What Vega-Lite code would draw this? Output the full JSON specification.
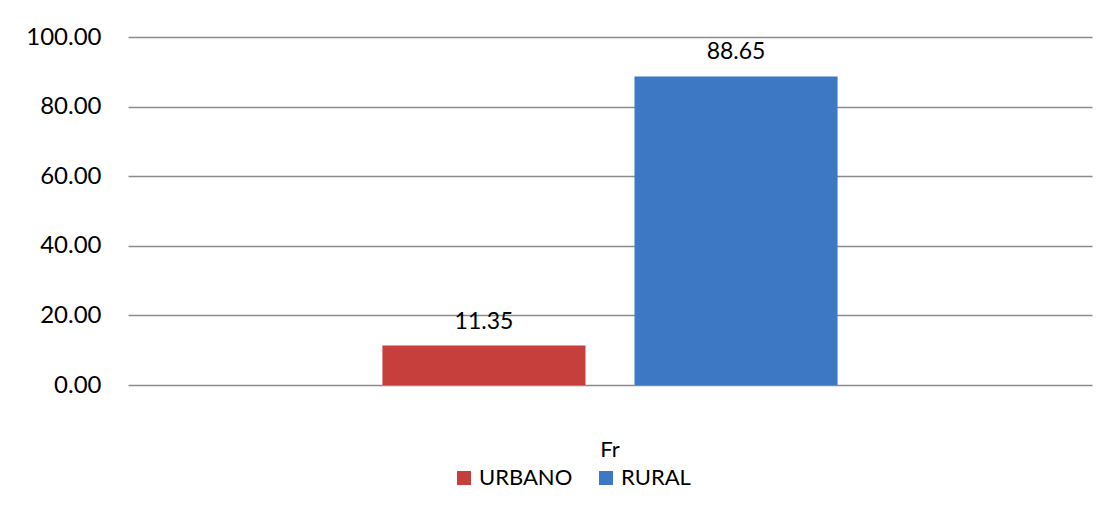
{
  "$schema": "https://vega.github.io/schema/vega-lite/v6.json",
  "width": 964,
  "height": 348,
  "autosize": {"type": "none"},
  "padding": {"left": 128, "top": 37, "right": 17, "bottom": 125},
  "background": "white",
  "data": {
    "values": [
      {"cat": "Fr", "serie": "URBANO", "valor": 11.35},
      {"cat": "Fr", "serie": "RURAL", "valor": 88.65}
    ]
  },
  "encoding": {
    "x": {
      "field": "cat", "type": "nominal",
      "scale": {"paddingInner": 0, "paddingOuter": 0.559},
      "axis": {"title": null, "labelAngle": 0, "ticks": false, "domain": false, "labelPadding": 54, "labelFontSize": 22, "labelFont": "Lato", "labelColor": "#000"}
    },
    "xOffset": {
      "field": "serie", "type": "nominal", "sort": ["URBANO", "RURAL"],
      "scale": {"paddingInner": 0.1944, "paddingOuter": 0}
    },
    "y": {
      "field": "valor", "type": "quantitative",
      "scale": {"domain": [0, 100], "nice": false},
      "axis": {"title": null, "values": [0, 20, 40, 60, 80, 100], "format": ".2f", "ticks": false, "domain": false, "labelPadding": 27, "labelFontSize": 24, "labelFont": "Lato", "labelColor": "#000", "gridColor": "#8c8c8c", "gridWidth": 1.5}
    }
  },
  "layer": [
    {
      "mark": {"type": "bar", "stroke": null},
      "encoding": {
        "color": {
          "field": "serie", "type": "nominal", "sort": ["URBANO", "RURAL"],
          "scale": {"domain": ["URBANO", "RURAL"], "range": ["#C63F3D", "#3C78C4"]},
          "legend": {
            "title": null, "orient": "none", "direction": "horizontal",
            "legendX": 325, "legendY": 430,
            "symbolType": "square", "symbolSize": 196, "symbolStrokeWidth": 0,
            "labelFontSize": 22, "labelFont": "Lato", "labelColor": "#000",
            "labelOffset": 4, "columnPadding": 22
          }
        }
      }
    },
    {
      "mark": {"type": "text", "baseline": "bottom", "dy": -12, "fontSize": 23, "font": "Lato", "color": "#000"},
      "encoding": {
        "text": {"field": "valor", "type": "quantitative", "format": ".2f"}
      }
    }
  ],
  "config": {"view": {"stroke": null}}
}
